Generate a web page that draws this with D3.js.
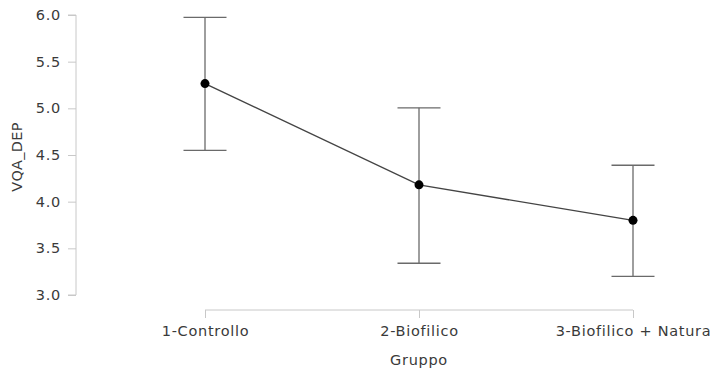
<!DOCTYPE html>
<html><head><meta charset="utf-8">
<script src="https://cdn.jsdelivr.net/npm/d3@7"></script>
<style>body{margin:0;background:#fff;} text{font-family:"DejaVu Sans",sans-serif;}</style>
</head><body>
<svg id="c" width="715" height="374"></svg>
<script>
const categories = ["1-Controllo", "2-Biofilico", "3-Biofilico + Natura"];
const means = [5.265, 4.18, 3.80];
const lower = [4.55, 3.34, 3.20];
const upper = [5.975, 5.005, 4.39];
const yTicks = [3.0, 3.5, 4.0, 4.5, 5.0, 5.5, 6.0];

const svg = d3.select("#c");
const x = d3.scalePoint().domain(categories).range([205, 633]);
const y = d3.scaleLinear().domain([3, 6]).range([295, 15]);
const axisColor = "#c8c8c8", textColor = "#3a3a3a";
const fs = "14.5px", ls = "0.7px";

// y axis
const ya = svg.append("g").attr("transform", "translate(76,0)")
  .call(d3.axisLeft(y).tickValues(yTicks).tickFormat(d3.format(".1f")).tickSize(8).tickPadding(7));
ya.selectAll("path, line").attr("stroke", axisColor);
ya.select(".domain").attr("d", "M-8,15H0V295H-8");
ya.selectAll("text").attr("fill", textColor).style("font-size", fs).style("letter-spacing", ls);

// x axis
const xa = svg.append("g").attr("transform", "translate(0,310)")
  .call(d3.axisBottom(x).tickSize(8).tickPadding(8).tickSizeOuter(0));
xa.selectAll("path, line").attr("stroke", axisColor);
xa.select(".domain").attr("d", "M205,0H633");
xa.selectAll("text").attr("fill", textColor).style("font-size", fs).style("letter-spacing", ls);

svg.append("text").attr("x", 419).attr("y", 365).attr("text-anchor", "middle")
  .attr("fill", textColor).style("font-size", fs).style("letter-spacing", ls).text("Gruppo");
svg.append("text").attr("transform", "translate(22,157) rotate(-90)").attr("text-anchor", "middle")
  .attr("fill", textColor).style("font-size", fs).style("letter-spacing", "0.3px").text("VQA_DEP");

// error bars
const eb = svg.append("g").attr("stroke", "#6a6a6a").attr("stroke-width", 1.3);
categories.forEach((c, i) => {
  const cx = x(c);
  eb.append("line").attr("x1", cx).attr("x2", cx).attr("y1", y(lower[i])).attr("y2", y(upper[i]));
  eb.append("line").attr("x1", cx - 21.5).attr("x2", cx + 21.5).attr("y1", y(lower[i])).attr("y2", y(lower[i]));
  eb.append("line").attr("x1", cx - 21.5).attr("x2", cx + 21.5).attr("y1", y(upper[i])).attr("y2", y(upper[i]));
});

// line
svg.append("path").datum(categories.map((c, i) => [x(c), y(means[i])]))
  .attr("d", d3.line()).attr("fill", "none").attr("stroke", "#444").attr("stroke-width", 1.4);

svg.selectAll("circle.pt").data(categories).enter().append("circle")
  .attr("cx", d => x(d)).attr("cy", (d, i) => y(means[i])).attr("r", 4.5).attr("fill", "#000");
</script>
</body></html>
